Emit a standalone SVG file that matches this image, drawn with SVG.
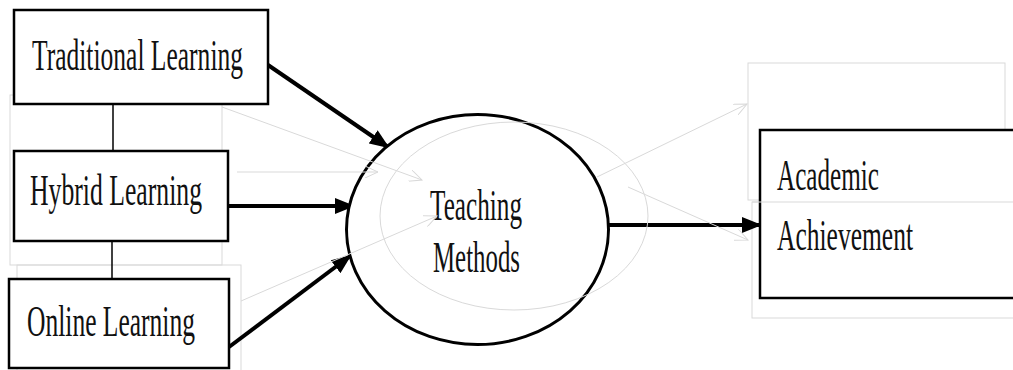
<svg xmlns="http://www.w3.org/2000/svg" width="1013" height="370" viewBox="0 0 1013 370">
<style>
.box{fill:#fff;stroke:#000;stroke-width:2.5}
.lbl{font-family:"Liberation Serif","Times New Roman",serif;font-size:44px;fill:#111}
.conn{stroke:#000;stroke-width:4;fill:none}
.ghost{stroke:#d9d9d9;stroke-width:1;fill:none}
</style>
<defs>
<marker id="ah" markerWidth="5" markerHeight="4" refX="4.5" refY="2" orient="auto" markerUnits="strokeWidth">
<path d="M0,0 L5,2 L0,4 Z" fill="#000"/>
</marker>
<marker id="gh" markerWidth="14" markerHeight="12" refX="13" refY="6" orient="auto" markerUnits="userSpaceOnUse">
<path d="M0,0 L13,6 L0,12" fill="none" stroke="#d9d9d9" stroke-width="1"/>
</marker>
</defs>
<rect width="1013" height="370" fill="#fff"/>
<g id="ghost-frames">
<rect class="ghost" x="10" y="95" width="212" height="170"/>
<rect class="ghost" x="17" y="265" width="224" height="110"/>
<rect class="ghost" x="748" y="63" width="257" height="137"/>
<rect class="ghost" x="752" y="202" width="270" height="116"/>
</g>
<g id="connectors">
<line x1="113" y1="104" x2="113" y2="151" stroke="#000" stroke-width="1.5"/>
<line x1="112" y1="241" x2="112" y2="279" stroke="#000" stroke-width="1.5"/>
<line class="conn" x1="268" y1="65" x2="388" y2="147" marker-end="url(#ah)"/>
<line class="conn" x1="229" y1="206" x2="353" y2="206" marker-end="url(#ah)"/>
<line class="conn" x1="229" y1="347" x2="350" y2="256" marker-end="url(#ah)"/>
<line class="conn" x1="609" y1="225" x2="760" y2="225" stroke-width="5" marker-end="url(#ah)"/>
</g>
<g id="traditional">
<rect class="box" x="14" y="10" width="254" height="94"/>
<text class="lbl" x="32" y="70" textLength="211" lengthAdjust="spacingAndGlyphs">Traditional Learning</text>
</g>
<g id="hybrid">
<rect class="box" x="14" y="151" width="214" height="90"/>
<text class="lbl" x="30" y="205" textLength="172" lengthAdjust="spacingAndGlyphs">Hybrid Learning</text>
</g>
<g id="online">
<rect class="box" x="9" y="279" width="220" height="89"/>
<text class="lbl" x="27" y="336" textLength="168" lengthAdjust="spacingAndGlyphs">Online Learning</text>
</g>
<g id="teaching">
<ellipse cx="477.5" cy="229.5" rx="131" ry="115" fill="#fff" stroke="#000" stroke-width="3"/>
<ellipse class="ghost" cx="514" cy="216" rx="134" ry="94"/>
<text class="lbl" x="430" y="220" textLength="92" lengthAdjust="spacingAndGlyphs">Teaching</text>
<text class="lbl" x="433" y="272" textLength="87" lengthAdjust="spacingAndGlyphs">Methods</text>
</g>
<g id="ghost-arrows">
<line class="ghost" x1="222" y1="107" x2="422" y2="180" marker-end="url(#gh)"/>
<line class="ghost" x1="237" y1="172" x2="378" y2="172" marker-end="url(#gh)"/>
<line class="ghost" x1="241" y1="301" x2="437" y2="216" marker-end="url(#gh)"/>
<line class="ghost" x1="597" y1="177" x2="747" y2="104" marker-end="url(#gh)"/>
<line class="ghost" x1="628" y1="187" x2="748" y2="240" marker-end="url(#gh)"/>
</g>
<g id="academic">
<rect class="box" x="760" y="130" width="270" height="168"/>
<line class="ghost" x1="752" y1="202" x2="1013" y2="202"/>
<text class="lbl" x="777" y="190" textLength="102" lengthAdjust="spacingAndGlyphs">Academic</text>
<text class="lbl" x="777" y="250" textLength="136" lengthAdjust="spacingAndGlyphs">Achievement</text>
</g>
</svg>
